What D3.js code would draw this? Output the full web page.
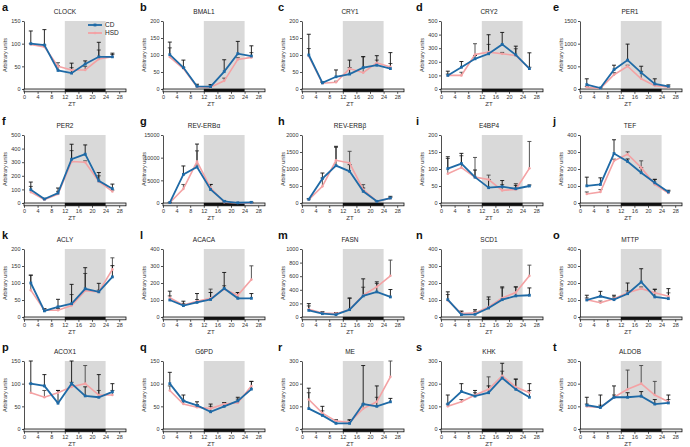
<!DOCTYPE html>
<html><head><meta charset="utf-8">
<script src="https://cdn.jsdelivr.net/npm/d3@7"></script>
<style>body{margin:0;background:#fff} text{font-family:"Liberation Sans",Arial,sans-serif}</style>
</head><body><svg id="c" width="690" height="447"></svg>
<script>
const zt = [2, 6, 10, 14, 18, 22, 26];
const xTicks = [0, 4, 8, 12, 16, 20, 24, 28];
const genes = ["CLOCK","BMAL1","CRY1","CRY2","PER1","PER2","REV-ERBα","REV-ERBβ","E4BP4","TEF",
               "ACLY","ACACA","FASN","SCD1","MTTP","ACOX1","G6PD","ME","KHK","ALDOB"];
const letters = ["a","b","c","d","e","f","g","h","i","j","k","l","m","n","o","p","q","r","s","t"];
const yMax  = [150,200,200,500,1500,500,15000,2000,200,400,200,400,1000,400,400,150,150,300,300,300];
const yStep = [50,50,50,100,500,100,5000,500,50,100,50,100,200,100,100,50,50,100,100,100];
const seriesNames = ["CD","HSD"];

// CD means per gene (ZT2..ZT26)
const cdMean = [
  [100,97,41,35,55,71,71],
  [101,63,8,7,51,104,97],
  [100,18,36,44,63,70,60],
  [100,160,222,259,328,251,150],
  [97,22,427,637,360,112,60],
  [98,29,73,322,359,163,105],
  [100,6300,7950,2970,370,50,150],
  [108,716,1098,931,343,49,147],
  [101,116,76,45,48,42,50],
  [101,109,291,244,178,119,65],
  [100,18,30,39,83,74,118],
  [100,67,86,103,168,110,110],
  [98,49,34,108,310,369,295],
  [102,14,16,53,102,124,128],
  [100,122,102,137,206,118,108],
  [100,95,57,100,73,70,82],
  [100,62,52,38,50,62,88],
  [90,60,25,25,110,100,120],
  [110,165,145,160,225,175,140],
  [105,95,140,140,145,110,115]
];
const cdErr = [
  [28,34,10,22,7,32,8],
  [37,22,6,6,35,36,30],
  [61,3,20,41,32,28,47],
  [31,42,24,140,88,64,116],
  [128,10,98,353,142,113,30],
  [56,5,37,110,68,61,34],
  [50,1870,5050,1120,100,20,50],
  [20,166,569,196,98,10,49],
  [35,30,21,24,18,10,3],
  [51,39,81,15,30,20,10],
  [23,5,22,57,62,25,33],
  [52,26,52,41,94,34,28],
  [99,25,30,173,251,148,109],
  [46,21,27,65,75,53,43],
  [28,29,26,63,78,45,59],
  [50,25,28,50,20,50,18],
  [25,13,8,17,8,8,17],
  [90,40,15,15,170,90,15],
  [40,35,25,30,65,45,60],
  [35,55,50,20,20,20,35]
];
// HSD means per gene
const hsdMean = [
  [98,93,50,42,42,66,71],
  [94,60,6,5,24,87,93],
  [97,17,20,60,48,77,65],
  [100,100,254,271,259,246,150],
  [37,15,315,502,225,75,37],
  [80,24,66,305,300,159,85],
  [50,3120,9140,3340,150,30,20],
  [98,490,1255,1176,392,49,140],
  [86,104,76,69,37,40,102],
  [53,65,248,287,208,109,59],
  [79,20,20,34,77,74,140],
  [113,70,93,110,164,128,220],
  [113,59,49,108,320,443,606],
  [98,20,24,59,112,144,242],
  [102,84,108,143,167,143,122],
  [80,70,80,93,100,75,75],
  [85,55,48,45,55,58,95],
  [130,70,35,30,90,120,230],
  [100,120,150,175,235,185,160],
  [100,95,140,175,200,150,120]
];
const hsdErr = [
  [2,4,8,5,8,20,5],
  [27,4,3,4,8,5,14],
  [22,3,3,3,47,8,10],
  [10,23,79,57,10,50,10],
  [20,5,45,23,165,20,10],
  [42,5,20,80,10,41,10],
  [20,970,2360,750,50,10,10],
  [20,245,382,344,148,10,20],
  [45,35,58,13,17,17,79],
  [12,14,10,14,40,30,10],
  [44,5,5,32,51,5,34],
  [11,10,10,54,20,16,81],
  [50,15,15,163,118,50,231],
  [34,10,10,45,59,33,63],
  [10,10,10,10,10,20,20],
  [20,15,5,10,40,10,10],
  [10,8,6,5,3,8,10],
  [30,10,5,10,20,20,70],
  [10,10,10,55,20,35,10],
  [10,10,10,85,80,60,10]
];

const CD_COLOR = "#1f6aa6", HSD_COLOR = "#f4a2a4";
const svg = d3.select("#c");
const W = 102, H = 68;
const colLeft = [24, 163, 302, 441, 580];
const rowTop = [21, 135, 249, 361];
const letterX = [2, 140, 278, 416, 553];
const titleX = [65, 204, 350, 489, 630];

genes.forEach((gene, i) => {
  const c = i % 5, r = Math.floor(i / 5);
  const g = svg.append("g").attr("transform", `translate(${colLeft[c]},${rowTop[r]})`);
  const x = d3.scaleLinear().domain([0, 30]).range([0, W]);
  const y = d3.scaleLinear().domain([0, yMax[i]]).range([H, 0]);

  svg.append("text").attr("x", letterX[c]).attr("y", rowTop[r] - 10)
    .attr("font-size", 11).attr("font-weight", "bold").attr("fill", "#111").text(letters[i]);
  svg.append("text").attr("x", titleX[c]).attr("y", rowTop[r] - 7).attr("text-anchor", "middle")
    .attr("font-size", 6.5).attr("fill", "#222").text(gene);

  // dark phase shading
  g.append("rect").attr("x", x(12)).attr("y", 0).attr("width", x(24) - x(12)).attr("height", H)
    .attr("fill", "#d9d9d9");

  // y axis
  const ya = g.append("g").call(d3.axisLeft(y).tickValues(d3.range(0, yMax[i] + 1, yStep[i]))
    .tickFormat(d3.format("d")).tickSize(2).tickPadding(1.5).tickSizeOuter(0));
  ya.selectAll("text").attr("font-size", 5.5).attr("fill", "#333");
  ya.select(".domain").attr("stroke", "#222").attr("stroke-width", 0.8);
  ya.selectAll(".tick line").attr("stroke", "#222").attr("stroke-width", 0.8);

  // x axis with light/dark bar
  g.append("rect").attr("x", 0).attr("y", H).attr("width", x(30)).attr("height", 2.8)
    .attr("fill", "#e6e6e6").attr("stroke", "#111").attr("stroke-width", 0.8);
  g.append("rect").attr("x", x(12)).attr("y", H).attr("width", x(24) - x(12)).attr("height", 2.8)
    .attr("fill", "#111");
  const xa = g.append("g").attr("transform", `translate(0,${H + 2.8})`)
    .call(d3.axisBottom(x).tickValues(xTicks).tickSize(2).tickPadding(1));
  xa.select(".domain").remove();
  xa.selectAll(".tick line").attr("stroke", "#222").attr("stroke-width", 0.8);
  xa.selectAll("text").attr("font-size", 5.5).attr("fill", "#333");

  g.append("text").attr("x", W / 2 - 3).attr("y", H + 17).attr("text-anchor", "middle")
    .attr("font-size", 6).attr("fill", "#333").text("ZT");
  g.append("text").attr("transform", `translate(-17,${H / 2}) rotate(-90)`).attr("text-anchor", "middle")
    .attr("font-size", 5.5).attr("fill", "#333").text("Arbitrary units");

  const series = [
    {name: "HSD", mean: hsdMean[i], err: hsdErr[i], color: HSD_COLOR, ecol: "#444"},
    {name: "CD", mean: cdMean[i], err: cdErr[i], color: CD_COLOR, ecol: "#111"}
  ];
  // error bars
  series.forEach(s => {
    s.mean.forEach((m, k) => {
      const top = m + s.err[k];
      g.append("line").attr("x1", x(zt[k])).attr("x2", x(zt[k])).attr("y1", y(m)).attr("y2", y(top))
        .attr("stroke", s.ecol).attr("stroke-width", 0.9);
      g.append("line").attr("x1", x(zt[k]) - 2).attr("x2", x(zt[k]) + 2).attr("y1", y(top)).attr("y2", y(top))
        .attr("stroke", s.ecol).attr("stroke-width", 0.9);
    });
  });
  // lines
  series.forEach(s => {
    const line = d3.line().x((d, k) => x(zt[k])).y(d => y(d));
    g.append("path").datum(s.mean).attr("d", line).attr("fill", "none")
      .attr("stroke", s.color).attr("stroke-width", s.name === "CD" ? 1.8 : 1.6);
    s.mean.forEach((m, k) => {
      if (s.name === "CD") {
        g.append("rect").attr("x", x(zt[k]) - 1.4).attr("y", y(m) - 1.4).attr("width", 2.8).attr("height", 2.8)
          .attr("fill", s.color);
      } else {
        g.append("circle").attr("cx", x(zt[k])).attr("cy", y(m)).attr("r", 1.3).attr("fill", s.color);
      }
    });
  });

  if (i === 0) {
    const leg = g.append("g");
    [{n: "CD", col: CD_COLOR, yy: 4}, {n: "HSD", col: HSD_COLOR, yy: 12}].forEach(l => {
      leg.append("line").attr("x1", 64).attr("x2", 78).attr("y1", l.yy).attr("y2", l.yy)
        .attr("stroke", l.col).attr("stroke-width", 1.8);
      if (l.n === "CD") leg.append("rect").attr("x", 69.6).attr("y", l.yy - 1.4).attr("width", 2.8).attr("height", 2.8).attr("fill", l.col);
      else leg.append("circle").attr("cx", 71).attr("cy", l.yy).attr("r", 1.3).attr("fill", l.col);
      leg.append("text").attr("x", 81).attr("y", l.yy + 2.3).attr("font-size", 6.5).attr("fill", "#222").text(l.n);
    });
  }
});
</script></body></html>
